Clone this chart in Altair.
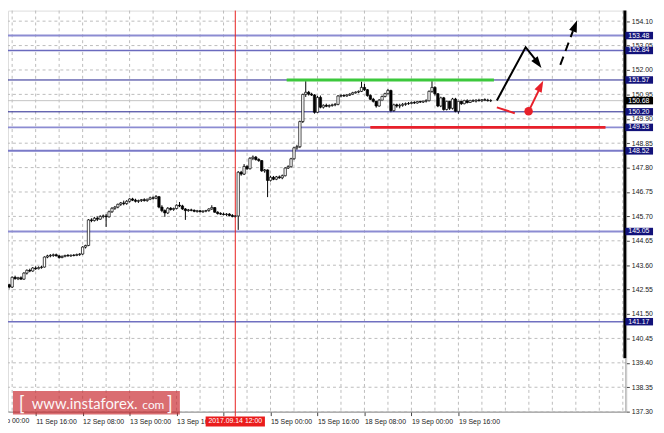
import altair as alt
import pandas as pd

# ---------------- data (hourly bars, index 0 = 11 Sep 00:00) ----------------
FIRST_BAR = 4
OPEN = [
    142.85, 142.82, 142.80, 142.76, 142.66, 143.08, 143.02, 143.06, 143.00, 143.26,
    143.38, 143.35, 143.48, 143.45, 143.50, 143.52, 143.95, 144.00, 144.02, 144.05,
    144.00, 143.93, 143.98, 144.02, 144.00, 144.03, 144.02, 144.06, 144.08, 144.38,
    144.45, 145.55, 145.52, 145.62, 145.58, 145.70, 145.72, 145.68, 145.90, 146.05,
    146.10, 146.22, 146.28, 146.25, 146.35, 146.45, 146.40, 146.35, 146.38, 146.42,
    146.38, 146.44, 146.50, 146.48, 146.55, 146.10, 145.95, 145.85, 146.05, 146.00,
    146.04, 146.18, 146.15, 146.02, 145.95, 145.98, 145.96, 145.92, 145.94, 145.90,
    145.93, 145.95, 146.02, 146.08, 145.88, 145.82, 145.80, 145.78, 145.80, 145.74,
    145.70, 145.72, 147.60, 147.52, 147.85, 147.75, 148.20, 148.25, 148.15, 148.10,
    147.66, 147.70, 147.25, 147.38, 147.30, 147.40, 147.36, 147.45, 147.78, 147.84,
    148.18, 148.65, 148.70, 149.78, 150.95, 151.04, 150.96, 150.92, 150.18, 150.82,
    150.40, 150.48, 150.44, 150.47, 150.50, 150.52, 150.88, 150.90, 150.88, 150.92,
    150.96, 151.02, 151.05, 151.08, 151.25, 151.15, 150.90, 150.74, 150.65, 150.45,
    150.70, 150.86, 150.98, 151.12, 150.25, 150.50, 150.45, 150.48, 150.52, 150.55,
    150.56, 150.60, 150.58, 150.64, 150.62, 150.66, 150.68, 151.08, 151.25, 150.98,
    150.45, 150.80, 150.30, 150.65, 150.35, 150.75, 150.22, 150.65, 150.55, 150.68,
    150.60, 150.68, 150.66, 150.70, 150.68, 150.72, 150.70, 150.68,
]
HIGH = [
    142.92, 142.88, 142.85, 142.80, 143.12, 143.15, 143.10, 143.12, 143.30, 143.42,
    143.45, 143.52, 143.55, 143.55, 143.58, 143.98, 144.05, 144.08, 144.10, 144.10,
    144.04, 144.02, 144.05, 144.08, 144.06, 144.08, 144.10, 144.12, 144.42, 144.48,
    145.58, 145.62, 145.68, 145.70, 145.75, 145.78, 145.80, 145.95, 146.10, 146.15,
    146.25, 146.32, 146.38, 146.40, 146.48, 146.50, 146.46, 146.42, 146.45, 146.48,
    146.46, 146.55, 146.56, 146.62, 146.58, 146.18, 146.00, 146.10, 146.10, 146.08,
    146.22, 146.32, 146.20, 146.06, 146.02, 146.03, 146.00, 145.98, 145.98, 145.96,
    145.98, 146.05, 146.18, 146.10, 145.92, 145.88, 145.86, 145.84, 145.84, 145.80,
    145.76, 147.65, 147.66, 147.95, 147.90, 148.25, 148.32, 148.30, 148.20, 148.12,
    147.74, 147.72, 147.45, 147.44, 147.44, 147.46, 147.50, 147.82, 147.90, 148.22,
    148.70, 148.78, 149.82, 150.98, 151.52, 151.10, 151.02, 150.96, 150.88, 150.90,
    150.52, 150.55, 150.52, 150.55, 150.58, 150.92, 150.95, 150.96, 150.96, 151.00,
    151.06, 151.08, 151.12, 151.50, 151.40, 151.18, 150.95, 150.80, 150.70, 150.75,
    150.90, 151.02, 151.18, 151.15, 150.55, 150.55, 150.55, 150.58, 150.60, 150.62,
    150.64, 150.66, 150.68, 150.70, 150.70, 150.74, 151.12, 151.52, 151.30, 151.00,
    150.85, 150.84, 150.70, 150.68, 150.80, 150.80, 150.72, 150.72, 150.72, 150.74,
    150.72, 150.74, 150.74, 150.76, 150.75, 150.78, 150.76, 150.74,
]
LOW = [
    142.78, 142.75, 142.72, 142.60, 142.62, 142.98, 142.96, 142.98, 142.97, 143.20,
    143.30, 143.32, 143.40, 143.42, 143.45, 143.50, 143.90, 143.94, 143.96, 143.98,
    143.88, 143.90, 143.94, 143.97, 143.96, 143.98, 143.99, 144.00, 144.05, 144.32,
    144.42, 145.45, 145.48, 145.50, 145.55, 145.62, 145.25, 145.65, 145.85, 145.98,
    146.05, 146.15, 146.18, 146.20, 146.30, 146.36, 146.30, 146.28, 146.32, 146.34,
    146.33, 146.40, 146.42, 146.44, 146.05, 145.88, 145.68, 145.80, 145.95, 145.94,
    146.00, 146.10, 145.98, 145.55, 145.90, 145.92, 145.88, 145.86, 145.88, 145.85,
    145.88, 145.90, 145.98, 145.86, 145.78, 145.76, 145.74, 145.72, 145.70, 145.66,
    145.64, 145.12, 147.45, 147.48, 147.70, 147.72, 148.12, 148.10, 148.05, 147.62,
    147.58, 146.53, 147.20, 147.26, 147.26, 147.32, 147.30, 147.42, 147.74, 147.80,
    148.14, 148.56, 148.64, 149.72, 150.84, 150.90, 150.88, 150.12, 150.15, 150.35,
    150.34, 150.40, 150.38, 150.42, 150.44, 150.48, 150.82, 150.84, 150.85, 150.88,
    150.92, 150.98, 151.00, 151.05, 151.10, 150.85, 150.70, 150.60, 150.38, 150.42,
    150.66, 150.82, 150.95, 150.18, 150.20, 150.38, 150.35, 150.42, 150.46, 150.50,
    150.52, 150.54, 150.55, 150.58, 150.58, 150.60, 150.64, 151.02, 150.90, 150.40,
    150.40, 150.25, 150.26, 150.28, 150.30, 150.18, 150.12, 150.50, 150.52, 150.56,
    150.58, 150.62, 150.60, 150.64, 150.62, 150.66, 150.64, 150.62,
]
CLOSE = [
    142.82, 142.80, 142.76, 142.66, 143.08, 143.02, 143.06, 143.00, 143.26, 143.38,
    143.35, 143.48, 143.45, 143.50, 143.52, 143.95, 144.00, 144.02, 144.05, 144.00,
    143.93, 143.98, 144.02, 144.00, 144.03, 144.02, 144.06, 144.08, 144.38, 144.45,
    145.55, 145.52, 145.62, 145.58, 145.70, 145.72, 145.68, 145.90, 146.05, 146.10,
    146.22, 146.28, 146.25, 146.35, 146.45, 146.40, 146.35, 146.38, 146.42, 146.38,
    146.44, 146.50, 146.48, 146.55, 146.10, 145.95, 145.85, 146.05, 146.00, 146.04,
    146.18, 146.15, 146.02, 145.95, 145.98, 145.96, 145.92, 145.94, 145.90, 145.93,
    145.95, 146.02, 146.08, 145.88, 145.82, 145.80, 145.78, 145.80, 145.74, 145.70,
    145.72, 147.60, 147.52, 147.85, 147.75, 148.20, 148.25, 148.15, 148.10, 147.66,
    147.70, 147.25, 147.38, 147.30, 147.40, 147.36, 147.45, 147.78, 147.84, 148.18,
    148.65, 148.70, 149.78, 150.95, 151.04, 150.96, 150.92, 150.18, 150.82, 150.40,
    150.48, 150.44, 150.47, 150.50, 150.52, 150.88, 150.90, 150.88, 150.92, 150.96,
    151.02, 151.05, 151.08, 151.25, 151.15, 150.90, 150.74, 150.65, 150.45, 150.70,
    150.86, 150.98, 151.12, 150.25, 150.50, 150.45, 150.48, 150.52, 150.55, 150.56,
    150.60, 150.58, 150.64, 150.62, 150.66, 150.68, 151.08, 151.25, 150.98, 150.45,
    150.80, 150.30, 150.65, 150.35, 150.75, 150.22, 150.65, 150.55, 150.68, 150.60,
    150.68, 150.66, 150.70, 150.68, 150.72, 150.70, 150.68, 150.68,
]

# visible time labels, one every 16 bars starting at bar 16 (bar 80 is hidden under the date tag)
TIME_LABELS = ["11 Sep 16:00", "12 Sep 08:00", "13 Sep 00:00", "13 Sep 16:00", "",
               "15 Sep 00:00", "15 Sep 16:00", "18 Sep 08:00", "19 Sep 00:00", "19 Sep 16:00"]
EDGE_LABEL = "11 Sep 00:00"   # cut by the left edge, at bar 0
LABEL_STEP = 16
GRID_BARS = list(range(8, 217, 8))

Y_TICKS = [154.10, 153.05, 152.00, 150.95, 149.90, 148.85, 147.80, 146.75, 145.70,
           144.65, 143.60, 142.55, 141.50, 140.45, 139.40, 138.35, 137.30]

LEVELS = [153.48, 152.84, 151.57, 150.20, 149.53, 148.52, 145.05, 141.17]
LEVEL_COLORS = ["#8c8cd2", "#6a6abe", "#22228c", "#22228c", "#8c8cd2", "#7a7ac8", "#8c8cd2", "#7070c0"]
LEVEL_WIDTHS = [2, 1.5, 1, 1, 2, 2, 2, 1.5]
CURRENT_PRICE = 150.68

EVENT_BAR = 84
EVENT_LABEL = "2017.09.14 12:00"

SEG_START = [101.5, 130.0]
SEG_END = [172.1, 210.1]
SEG_PRICE = [151.57, 149.53]
SEG_COLOR = ["#3cc83c", "#e8202a"]

# forecast arrows (bar index, price)
UP_BAR = [173.1, 182.9, 186.5]
UP_PRICE = [150.69, 152.98, 152.40]
DASH_BAR = [194.7, 199.0]
DASH_PRICE = [152.22, 153.67]
RED_SEG = ["a", "a", "b", "b"]
RED_BAR = [173.1, 179.2, 183.9, 187.3]
RED_PRICE = [150.39, 150.14, 150.22, 151.10]
HEAD_BAR = [188.3, 200.4, 188.9]
HEAD_PRICE = [152.09, 154.13, 151.54]
HEAD_ANGLE = [142.7, 20.7, 26.6]
HEAD_COLOR = ["black", "black", "#e8202a"]
DOT_BAR = [183.9]
DOT_PRICE = [150.22]

# ---------------- tables ----------------
bars = pd.DataFrame({
    "bar": list(range(FIRST_BAR, FIRST_BAR + len(CLOSE))),
    "open": OPEN, "high": HIGH, "low": LOW, "close": CLOSE,
})
levels = pd.DataFrame({"price": LEVELS, "color": LEVEL_COLORS, "width": LEVEL_WIDTHS,
                       "label": [f"{v:.2f}" for v in LEVELS], "fill": ["#12127a"] * len(LEVELS)})
tags = pd.concat([levels, pd.DataFrame({"price": [CURRENT_PRICE], "color": ["#c0c0c0"], "width": [1],
                                        "label": [f"{CURRENT_PRICE:.2f}"], "fill": ["black"]})])
current = pd.DataFrame({"price": [CURRENT_PRICE]})
segs = pd.DataFrame({"start": SEG_START, "end": SEG_END, "price": SEG_PRICE, "color": SEG_COLOR})
event = pd.DataFrame({"bar": [EVENT_BAR], "label": [EVENT_LABEL]})
edge = pd.DataFrame({"bar": [0], "label": [EDGE_LABEL]})
vgrid = pd.DataFrame({"bar": GRID_BARS})
hgrid = pd.DataFrame({"price": Y_TICKS})
up = pd.DataFrame({"bar": UP_BAR, "price": UP_PRICE, "ord": list(range(len(UP_BAR)))})
dash = pd.DataFrame({"bar": DASH_BAR, "price": DASH_PRICE, "ord": list(range(len(DASH_BAR)))})
red = pd.DataFrame({"seg": RED_SEG, "bar": RED_BAR, "price": RED_PRICE, "ord": list(range(len(RED_BAR)))})
heads = pd.DataFrame({"bar": HEAD_BAR, "price": HEAD_PRICE, "angle": HEAD_ANGLE, "color": HEAD_COLOR})
dot = pd.DataFrame({"bar": DOT_BAR, "price": DOT_PRICE})
one = pd.DataFrame({"k": [0]})

FONT = "Liberation Sans"
GRID_COLOR = "#bcbcbc"
X = alt.Scale(domain=[6.58, 217.21], nice=False, zero=False)
Y = alt.Scale(domain=[137.30, 154.555], nice=False, zero=False)

labels_js = "[" + ",".join("'" + s + "'" for s in TIME_LABELS) + "]"
x_axis = alt.Axis(
    values=[LABEL_STEP * (k + 1) for k in range(len(TIME_LABELS))],
    labelExpr=f"{labels_js}[round(datum.value / {LABEL_STEP}) - 1]",
    grid=False, domainColor="#8a8a8a", domainWidth=1,
    tickColor="#444444", tickSize=4,
    labelFont=FONT, labelFontSize=7, labelColor="#222222", labelAlign="left",
    labelPadding=2, labelOverlap=False, labelBound=False, labelFlush=False, title=None,
)
y_axis = alt.Axis(
    orient="right", values=Y_TICKS, format=".2f", grid=False,
    domain=False, tickColor="#444444", tickSize=3,
    labelFont=FONT, labelFontSize=7, labelColor="#222222", labelPadding=2,
    labelOverlap=False, labelBound=False, labelFlush=False, title=None,
)


def xq(field):
    return alt.X(field, type="quantitative", scale=X, axis=x_axis)


def yq(field):
    return alt.Y(field, type="quantitative", scale=Y, axis=y_axis)


vgrid_lines = alt.Chart(vgrid).mark_rule(color=GRID_COLOR, strokeWidth=1, strokeDash=[3, 3]).encode(
    x=xq("bar"))
hgrid_lines = alt.Chart(hgrid).mark_rule(color=GRID_COLOR, strokeWidth=1, strokeDash=[3, 3]).encode(
    y=yq("price"))
wicks = alt.Chart(bars).mark_rule(color="black", strokeWidth=1, clip=True).encode(
    x=xq("bar"), y=yq("low"), y2="high:Q",
)
bodies = alt.Chart(bars).transform_calculate(
    x0="datum.bar - 0.4", x1="datum.bar + 0.4"
).mark_rect(stroke="black", strokeWidth=0.7, clip=True).encode(
    x=xq("x0"), x2="x1:Q", y=yq("open"), y2="close:Q",
    fill=alt.condition("datum.close >= datum.open", alt.value("white"), alt.value("black")),
)
cur_line = alt.Chart(current).mark_rule(color="#c4c4c4", strokeWidth=1).encode(y=yq("price"))
level_lines = alt.Chart(levels).mark_rule().encode(
    y=yq("price"),
    color=alt.Color("color:N", scale=None),
    strokeWidth=alt.StrokeWidth("width:Q", scale=None),
)
event_line = alt.Chart(event).mark_rule(color="#e8201e", strokeWidth=1).encode(
    x=xq("bar"), y=alt.value(0), y2=alt.value(411))
seg_lines = alt.Chart(segs).mark_rule(strokeWidth=3).encode(
    x=xq("start"), x2="end:Q", y=yq("price"), color=alt.Color("color:N", scale=None),
)
up_line = alt.Chart(up).mark_line(color="black", strokeWidth=2).encode(
    x=xq("bar"), y=yq("price"), order="ord:Q")
dash_line = alt.Chart(dash).mark_line(color="black", strokeWidth=2, strokeDash=[9, 6]).encode(
    x=xq("bar"), y=yq("price"), order="ord:Q")
red_line = alt.Chart(red).mark_line(color="#e8202a", strokeWidth=2).encode(
    x=xq("bar"), y=yq("price"), detail="seg:N", order="ord:Q")
head_marks = alt.Chart(heads).mark_point(
    shape="M0,0L-0.45,1.3L0.45,1.3Z", size=324, filled=True, opacity=1
).encode(
    x=xq("bar"), y=yq("price"),
    angle=alt.Angle("angle:Q", scale=None), color=alt.Color("color:N", scale=None),
)
dot_mark = alt.Chart(dot).mark_circle(size=75, color="#e8202a", opacity=1).encode(
    x=xq("bar"), y=yq("price"))

axis_black = alt.Chart(one).mark_rule(color="black", strokeWidth=3).encode(
    x=alt.value(624.5), y=alt.value(0), y2=alt.value(352))
axis_gray = alt.Chart(one).mark_rule(color="#9a9a9a", strokeWidth=1).encode(
    x=alt.value(625.5), y=alt.value(352), y2=alt.value(406))

tag_boxes = alt.Chart(tags).mark_point(
    shape="M-1,-0.27L1,-0.27L1,0.27L-1,0.27Z", size=784, filled=True, opacity=1
).encode(x=alt.value(639), y=yq("price"), color=alt.Color("fill:N", scale=None))
tag_text = alt.Chart(tags).mark_text(
    align="left", baseline="middle", color="white", font=FONT, fontSize=7
).encode(x=alt.value(628), y=yq("price"), text="label:N")

edge_text = alt.Chart(edge).mark_text(
    align="left", baseline="top", color="#222222", font=FONT, fontSize=7
).encode(x=xq("bar"), y=alt.value(412), text="label:N")

date_box = alt.Chart(event).mark_point(
    shape="M-1,-0.17L1,-0.17L1,0.17L-1,0.17Z", size=3600, filled=True, opacity=1, color="#ea1c1c"
).encode(x=xq("bar"), y=alt.value(416))
date_text = alt.Chart(event).mark_text(
    align="center", baseline="middle", color="white", font=FONT, fontSize=7
).encode(x=xq("bar"), y=alt.value(416), text="label:N")

wm_box = alt.Chart(one).mark_rect(color="#c8282d", opacity=0.68).encode(
    x=alt.value(5), x2=alt.value(174), y=alt.value(385), y2=alt.value(409))
wm_text1 = alt.Chart(one).mark_text(align="left", baseline="alphabetic", color="white",
                                    font="Lato", fontSize=19, opacity=0.95).encode(
    x=alt.value(11), y=alt.value(404), text=alt.value("["))
wm_text2 = alt.Chart(one).mark_text(align="left", baseline="alphabetic", color="white",
                                    font="Lato", fontSize=15, opacity=0.95).encode(
    x=alt.value(24), y=alt.value(403), text=alt.value("www.instaforex."))
wm_text3 = alt.Chart(one).mark_text(align="left", baseline="alphabetic", color="white",
                                    font="Lato", fontSize=12, opacity=0.95).encode(
    x=alt.value(136), y=alt.value(403), text=alt.value("com"))
wm_text4 = alt.Chart(one).mark_text(align="left", baseline="alphabetic", color="white",
                                    font="Lato", fontSize=19, opacity=0.95).encode(
    x=alt.value(161), y=alt.value(404), text=alt.value("]"))

chart = alt.layer(
    vgrid_lines, hgrid_lines,
    wicks, cur_line, level_lines, event_line, seg_lines, bodies,
    up_line, dash_line, red_line, head_marks, dot_mark,
    axis_black, axis_gray, tag_boxes, tag_text, edge_text, date_box, date_text,
    wm_box, wm_text1, wm_text2, wm_text3, wm_text4,
).properties(
    width=626, height=406,
    padding={"left": 0, "top": 0, "right": 30, "bottom": 19},
    autosize=alt.AutoSizeParams(type="none"),
).configure_view(stroke=None).configure(background="white")

chart.save("out.html", embed_options={"renderer": "svg", "actions": False})
